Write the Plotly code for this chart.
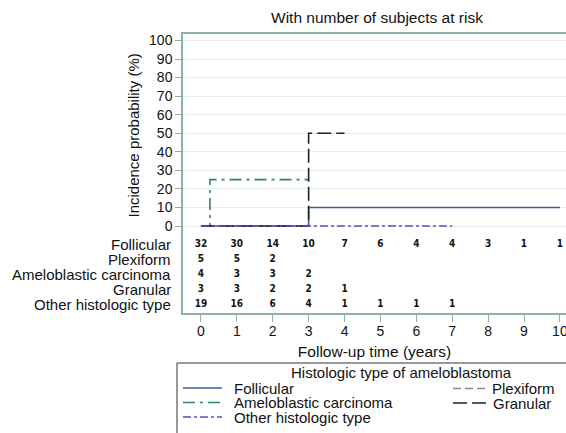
import plotly.graph_objects as go

# ---------------- data ----------------
x_ticks = list(range(0, 11))
y_ticks = list(range(0, 101, 10))

groups = ["Follicular", "Plexiform", "Ameloblastic carcinoma", "Granular", "Other histologic type"]

follicular_time = [0, 3, 10]
follicular_prob = [0, 10, 10]
plexiform_time = [0, 2]
plexiform_prob = [0, 0]
ameloblastic_time = [0, 0.25, 3]
ameloblastic_prob = [0, 25, 25]
granular_time = [0, 3, 4]
granular_prob = [0, 50, 50]
other_time = [0, 7]
other_prob = [0, 0]

risk_years = list(range(0, 11))
follicular_risk = [32, 30, 14, 10, 7, 6, 4, 4, 3, 1, 1]
plexiform_risk = [5, 5, 2]
ameloblastic_risk = [4, 3, 3, 2]
granular_risk = [3, 3, 2, 2, 1]
other_risk = [19, 16, 6, 4, 1, 1, 1, 1]

# ---------------- styles ----------------
FONT = "Liberation Sans, Arial, sans-serif"
NARROW = "Liberation Sans Narrow, DejaVu Sans Condensed, Liberation Sans, sans-serif"
AXIS_COL = "#8fb0a8"
GRID_COL = "#e6eeec"
TXT = 15

styles = {
    "Follicular": dict(color="#3b5e96", dash="solid"),
    "Plexiform": dict(color="#9a7b95", dash="8px,4px"),
    "Ameloblastic carcinoma": dict(color="#268a5c", dash="12px,5px,3px,5px"),
    "Granular": dict(color="#1a2520", dash="14px,5px"),
    "Other histologic type": dict(color="#6248c4", dash="8px,3px,3px,3px"),
}

curves = {
    "Follicular": (follicular_time, follicular_prob),
    "Plexiform": (plexiform_time, plexiform_prob),
    "Ameloblastic carcinoma": (ameloblastic_time, ameloblastic_prob),
    "Granular": (granular_time, granular_prob),
    "Other histologic type": (other_time, other_prob),
}
risks = {
    "Follicular": follicular_risk,
    "Plexiform": plexiform_risk,
    "Ameloblastic carcinoma": ameloblastic_risk,
    "Granular": granular_risk,
    "Other histologic type": other_risk,
}

W, H = 566, 433
ML, MR, MT, MB = 183, 0, 34, 120
PW, PH = W - ML - MR, H - MT - MB


def px_x(px):
    return (px - ML) / PW


def px_y(py):
    return (H - MB - py) / PH


fig = go.Figure()

for g in groups:
    t, p = curves[g]
    st = styles[g]
    fig.add_trace(go.Scatter(
        x=t, y=p, mode="lines", name=g, line_shape="hv",
        line=dict(color=st["color"], dash=st["dash"], width=1.6),
        showlegend=False, hoverinfo="skip",
    ))

# number at risk table rows (placed below the 0 line)
row_step = 8.1
row_top = -10.0
for i, g in enumerate(groups):
    yrow = row_top - row_step * i
    r = risks[g]
    fig.add_trace(go.Scatter(
        x=risk_years[:len(r)], y=[yrow] * len(r), mode="text",
        text=[str(v) for v in r],
        textfont=dict(family=NARROW, size=10, color="#111111", weight="bold"),
        textposition="middle center", showlegend=False, hoverinfo="skip",
        cliponaxis=False,
    ))
    fig.add_annotation(
        x=px_x(173), xref="paper", y=yrow, yref="y", text=g, showarrow=False,
        xanchor="right", yanchor="middle",
        font=dict(family=FONT, size=TXT, color="#111111"),
    )

# y axis title (centred on the probability part)
fig.add_annotation(
    x=px_x(133), xref="paper", y=px_y(135.5), yref="paper",
    text="Incidence probability (%)", textangle=-90, showarrow=False,
    xanchor="center", yanchor="middle",
    font=dict(family=FONT, size=15, color="#111111"),
)

# ---------------- legend (boxed, two columns) ----------------
fig.add_shape(type="rect", xref="paper", yref="paper",
              x0=px_x(177), x1=px_x(700), y0=px_y(520), y1=px_y(363),
              line=dict(color="#333333", width=1), fillcolor="rgba(0,0,0,0)")
fig.add_annotation(
    x=px_x(401), xref="paper", y=px_y(372), yref="paper",
    text="Histologic type of ameloblastoma", showarrow=False,
    xanchor="center", yanchor="middle",
    font=dict(family=FONT, size=TXT, color="#111111"),
)
legend_slots = {
    "Follicular": (183, 222, 232, 388),
    "Ameloblastic carcinoma": (183, 222, 232, 402.5),
    "Other histologic type": (183, 222, 232, 417),
    "Plexiform": (453, 489, 490, 388.5),
    "Granular": (453, 489, 491, 403),
}
for g in groups:
    x0, x1, xt, yy = legend_slots[g]
    st = styles[g]
    fig.add_shape(type="line", xref="paper", yref="paper",
                  x0=px_x(x0), x1=px_x(x1), y0=px_y(yy), y1=px_y(yy),
                  line=dict(color=st["color"], dash=st["dash"], width=1.6))
    fig.add_annotation(
        x=px_x(xt), xref="paper", y=px_y(yy), yref="paper", text=g,
        showarrow=False, xanchor="left", yanchor="middle",
        font=dict(family=FONT, size=TXT, color="#111111"),
    )

fig.update_layout(
    width=W, height=H,
    margin=dict(l=ML, r=MR, t=MT, b=MB, pad=0),
    paper_bgcolor="white", plot_bgcolor="white",
    font=dict(family=FONT, color="#111111"),
    title=dict(text="With number of subjects at risk", x=(377) / W, xref="container",
               xanchor="center", y=1 - 18 / H, yref="container", yanchor="middle",
               font=dict(family=FONT, size=15.5, color="#111111")),
    showlegend=False,
)
fig.update_xaxes(
    range=[-0.5, 10.17], tickvals=x_ticks, ticktext=[str(v) for v in x_ticks],
    showline=True, linecolor=AXIS_COL, linewidth=1.5, mirror=True,
    ticks="outside", ticklen=7, tickcolor=AXIS_COL, tickwidth=1,
    ticklabeloverflow="allow", ticklabelstandoff=-3,
    showgrid=False, zeroline=False, automargin=False,
    tickfont=dict(family=FONT, size=14, color="#111111"),
    title=dict(text="Follow-up time (years)", standoff=9,
               font=dict(family=FONT, size=15.5, color="#111111")),
)
fig.update_yaxes(
    range=[-46.9, 103.5], tickvals=y_ticks, ticktext=[str(v) for v in y_ticks],
    showline=True, linecolor=AXIS_COL, linewidth=1.5,
    ticks="outside", ticklen=6, tickcolor=AXIS_COL, tickwidth=1,
    showgrid=True, gridcolor=GRID_COL, gridwidth=1, zeroline=False, automargin=False,
    tickfont=dict(family=FONT, size=14, color="#111111"),
)

fig.write_html("out.html")
